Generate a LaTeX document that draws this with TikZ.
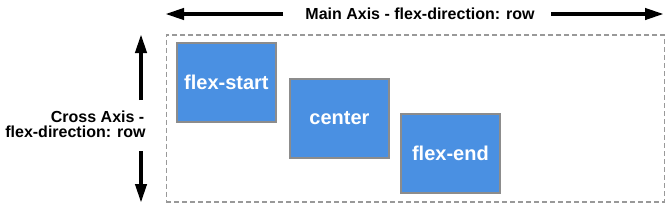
\documentclass[tikz,border=0pt]{standalone}
\usepackage{fontspec}
\setmainfont{Liberation Sans}
\usetikzlibrary{arrows.meta}
\definecolor{boxblue}{HTML}{4A90E2}
\definecolor{boxedge}{HTML}{8C8C8C}
\definecolor{dashgray}{HTML}{999999}
\tikzset{
  itembox/.style={draw=boxedge, line width=1.2pt, fill=boxblue, text=white,
    font=\bfseries\fontsize{20}{24}\selectfont, inner sep=0pt,
    minimum width=99pt, minimum height=79pt, anchor=north west},
  axisarrow/.style={line width=4pt, -{Triangle[length=19pt,width=11pt]}},
  axislabel/.style={font=\bfseries\fontsize{16}{16}\selectfont, inner sep=0pt, text=black},
}
\begin{document}
\begin{tikzpicture}[x=1pt,y=-1pt]
\useasboundingbox (0,0) rectangle (671,204);
\node[draw=dashgray, line width=1.5pt, dash pattern=on 5pt off 3pt, minimum width=498pt, minimum height=167pt, anchor=north west, inner sep=0pt] (container) at (165.7,34) {};
\node[itembox] (fs) at (176.3,42.3) {flex-start};
\node[itembox] (ce) at (289.3,78.3) {center};
\node[itembox] (fe) at (400.3,113.3) {flex-end};
% main axis
\node[axislabel, anchor=base] (mainlbl) at (420,19.5) {Main Axis - flex-direction: row};
\coordinate (mlA) at (283,14);
\coordinate (mlB) at (165,14);
\coordinate (mrA) at (551,14);
\coordinate (mrB) at (664,14);
\draw[axisarrow] (mlA) -- (mlB);
\draw[axisarrow] (mrA) -- (mrB);
% cross axis
\node[axislabel, anchor=base east] (cross1) at (144.5,122.5) {Cross Axis -};
\node[axislabel, anchor=base east] (cross2) at (145.7,137.5) {flex-direction: row};
\coordinate (cuA) at (141,100);
\coordinate (cuB) at (141,34);
\coordinate (cdA) at (141,151);
\coordinate (cdB) at (141,203);
\draw[axisarrow] (cuA) -- (cuB);
\draw[axisarrow] (cdA) -- (cdB);
\end{tikzpicture}
\end{document}
